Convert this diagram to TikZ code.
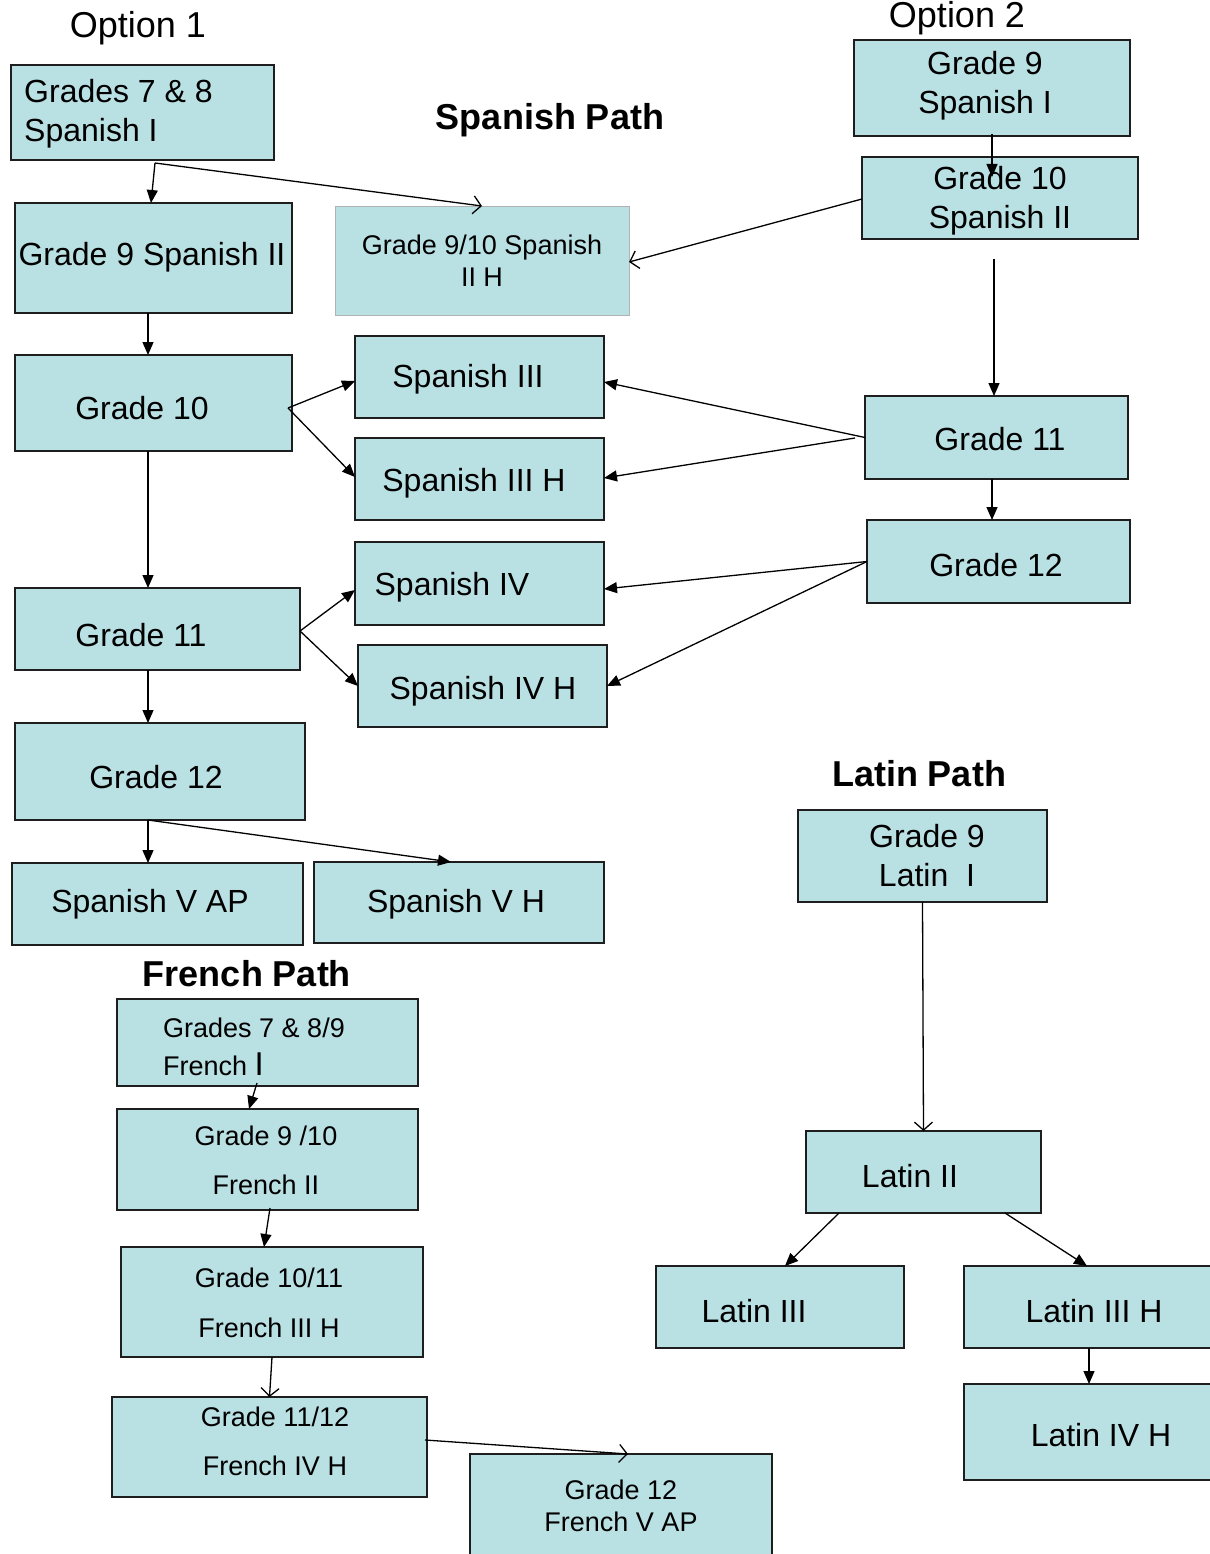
\documentclass[tikz,border=0pt]{standalone}
\usepackage{fontspec}
\setmainfont{Liberation Sans}
\usetikzlibrary{arrows.meta}
\definecolor{boxfill}{RGB}{185,224,227}
\definecolor{boxline}{RGB}{30,30,30}
\newcommand\mybox[6][box]{\node[#1, minimum width={#5-#3}, minimum height={#6-#4}] (#2) at ({(#3+#5)/2},{(#4+#6)/2}) {};}
\begin{document}
\begin{tikzpicture}[x=1pt,y=-1pt,
 box/.style={draw=boxline, fill=boxfill, line width=1.5pt, inner sep=0pt, outer sep=0pt, rectangle},
 lightbox/.style={box, draw=gray!60, line width=0.8pt},
 lbl/.style={inner sep=0pt, yshift=-3pt, font=\fontsize{32}{39}\selectfont, align=center},
 small/.style={inner sep=0pt, font=\fontsize{27}{32}\selectfont, align=center},
 title/.style={inner sep=0pt, font=\fontsize{36}{42}\selectfont\bfseries},
 head/.style={inner sep=0pt, font=\fontsize{36}{42}\selectfont},
 fa/.style={line width=1.3pt, -{Triangle[length=13pt,width=11pt]}},
 oa/.style={line width=1.3pt, -{Straight Barb[length=8pt,width=18pt]}},
]
\useasboundingbox[fill=white] (0,0) rectangle (1209,1554);

% ---------- titles ----------
\node[head] (opt1) at (138,28) {Option 1};
\node[head] (opt2) at (957,18) {Option 2};
\node[title] (sp) at (550,120) {Spanish Path};
\node[title] (lp) at (919,774) {Latin Path};
\node[title] (fp) at (247,974) {French Path};

% ---------- Spanish, option 1 ----------
\mybox{G78}{11}{65}{274}{160}
\node[lbl, anchor=west, align=left] (G78t) at (24,111) {Grades 7 \& 8\\Spanish I};
\mybox{G9S2}{15}{203}{292}{313}
\node[lbl] (G9S2t) at (152,254) {Grade 9 Spanish II};
\mybox[lightbox]{G910H}{335}{206}{629}{315}
\node[small] (G910Ht) at (482,261) {Grade 9/10 Spanish\\II H};
\mybox{G10}{15}{355}{292}{451}
\node[lbl] (G10t) at (142,405) {Grade 10};
\mybox{S3}{355}{336}{604}{418}
\node[lbl] (S3t) at (468,376) {Spanish III};
\mybox{S3H}{355}{438}{604}{520}
\node[lbl] (S3Ht) at (474,480) {Spanish III H};
\mybox{G11}{15}{588}{300}{670}
\node[lbl] (G11t) at (141,632) {Grade 11};
\mybox{S4}{355}{542}{604}{625}
\node[lbl] (S4t) at (452,584) {Spanish IV};
\mybox{S4H}{358}{645}{607}{727}
\node[lbl] (S4Ht) at (483,688) {Spanish IV H};
\mybox{G12}{15}{723}{305}{820}
\node[lbl] (G12t) at (156,774) {Grade 12};
\mybox{S5AP}{12}{863}{303}{945}
\node[lbl] (S5APt) at (150,901) {Spanish V AP};
\mybox{S5H}{314}{862}{604}{943}
\node[lbl] (S5Ht) at (456,901) {Spanish V H};

% ---------- Spanish, option 2 ----------
\mybox{OG9}{854}{40}{1130}{136}
\node[lbl] (OG9t) at (985,83) {Grade 9\\Spanish I};
\mybox{OG10}{862}{157}{1138}{239}
\node[lbl] (OG10t) at (1000,198) {Grade 10\\Spanish II};
\mybox{OG11}{865}{396}{1128}{479}
\node[lbl] (OG11t) at (1000,436) {Grade 11};
\mybox{OG12}{867}{520}{1130}{603}
\node[lbl] (OG12t) at (996,562) {Grade 12};

% ---------- Latin ----------
\mybox{L1}{798}{810}{1047}{902}
\node[lbl] (L1t) at (927,853) {Grade 9\\Latin\ \ I};
\mybox{L2}{806}{1131}{1041}{1213}
\node[lbl] (L2t) at (910,1173) {Latin II};
\mybox{L3}{656}{1266}{904}{1348}
\node[lbl] (L3t) at (754,1308) {Latin III};
\mybox{L3H}{964}{1266}{1215}{1348}
\node[lbl] (L3Ht) at (1094,1308) {Latin III H};
\mybox{L4H}{964}{1384}{1215}{1480}
\node[lbl] (L4Ht) at (1101,1432) {Latin IV H};

% ---------- French ----------
\mybox{F1}{117}{999}{418}{1086}
\node[small, anchor=west, align=left, font=\fontsize{27}{38}\selectfont] (F1t) at (163,1047) {Grades 7 \& 8/9\\French {\fontsize{33}{38}\selectfont I}};
\mybox{F2}{117}{1109}{418}{1210}
\node[small, font=\fontsize{27}{49}\selectfont] (F2t) at (266,1160) {Grade 9 /10\\French II};
\mybox{F3}{121}{1247}{423}{1357}
\node[small, font=\fontsize{27}{50}\selectfont] (F3t) at (269,1303) {Grade 10/11\\French III H};
\mybox{F4}{112}{1397}{427}{1497}
\node[small, font=\fontsize{27}{49}\selectfont] (F4t) at (275,1441) {Grade 11/12\\French IV H};
\mybox{F5}{470}{1454}{772}{1570}
\node[small] (F5t) at (621,1506) {Grade 12\\French V AP};

% ---------- connector start points ----------
\coordinate (s78) at (155,163);
\coordinate (s10) at (288,408);
\coordinate (sOG9) at (992,134);
\coordinate (eOG10) at (992,177);
\coordinate (sOG10low) at (994,259);
\coordinate (sOG11b) at (855,438);
\coordinate (sF1) at (257,1083);
\coordinate (sF2) at (270,1208);
\coordinate (sF4) at (425,1440);

% ---------- connectors: Spanish option 1 ----------
\draw[fa] (s78) -- ([xshift=-2.5pt]G9S2.north);
\draw[oa] (s78) -- (G910H.north);
\draw[fa] ([xshift=-5.5pt]G9S2.south) -- ([xshift=-5.5pt]G10.north);
\draw[fa] (s10) -- ([yshift=-4pt]S3.west);
\draw[fa] (s10) -- ([yshift=2pt]S3H.west);
\draw[fa] ([xshift=-5.5pt]G10.south) -- ([xshift=-9.5pt]G11.north);
\draw[fa] ([yshift=-2pt]G11.east) -- ([yshift=-6.5pt]S4.west);
\draw[fa] ([yshift=-2pt]G11.east) -- (S4H.west);
\draw[fa] ([xshift=-9.5pt]G11.south) -- ([xshift=-12pt]G12.north);
\draw[fa] ([xshift=-12pt]G12.south) -- ([xshift=-9.5pt]S5AP.north);
\draw[fa] ([xshift=-12pt]G12.south) -- ([xshift=-8pt]S5H.north);

% ---------- connectors: Spanish option 2 ----------
\draw[fa] (sOG9) -- (eOG10);
\draw[oa] ([yshift=-1pt]OG10.west) -- ([yshift=-1.5pt]G910H.east);
\draw[fa] (sOG10low) -- ([xshift=-2.5pt]OG11.north);
\draw[fa] (OG11.west) -- ([yshift=-5pt]S3.east);
\draw[fa] (sOG11b) -- ([yshift=1pt]S3H.east);
\draw[fa] ([xshift=-4.5pt]OG11.south) -- ([xshift=-6.5pt]OG12.north);
\draw[fa] (OG12.west) -- ([yshift=-5.5pt]S4.east);
\draw[fa] (OG12.west) -- (S4H.east);

% ---------- connectors: Latin ----------
\draw[oa] (L1.south) -- (L2.north);
\draw[fa] ([xshift=-84.5pt]L2.south) -- ([xshift=5pt]L3.north);
\draw[fa] ([xshift=81.5pt]L2.south) -- ([xshift=-2.5pt]L3H.north);
\draw[fa] ([xshift=-0.5pt]L3H.south) -- ([xshift=-0.5pt]L4H.north);

% ---------- connectors: French ----------
\draw[fa] (sF1) -- ([xshift=-18.5pt]F2.north);
\draw[fa] (sF2) -- ([xshift=-8pt]F3.north);
\draw[oa] (F3.south) -- (F4.north);
\draw[oa] (sF4) -- ([xshift=7pt]F5.north);
\end{tikzpicture}
\end{document}
